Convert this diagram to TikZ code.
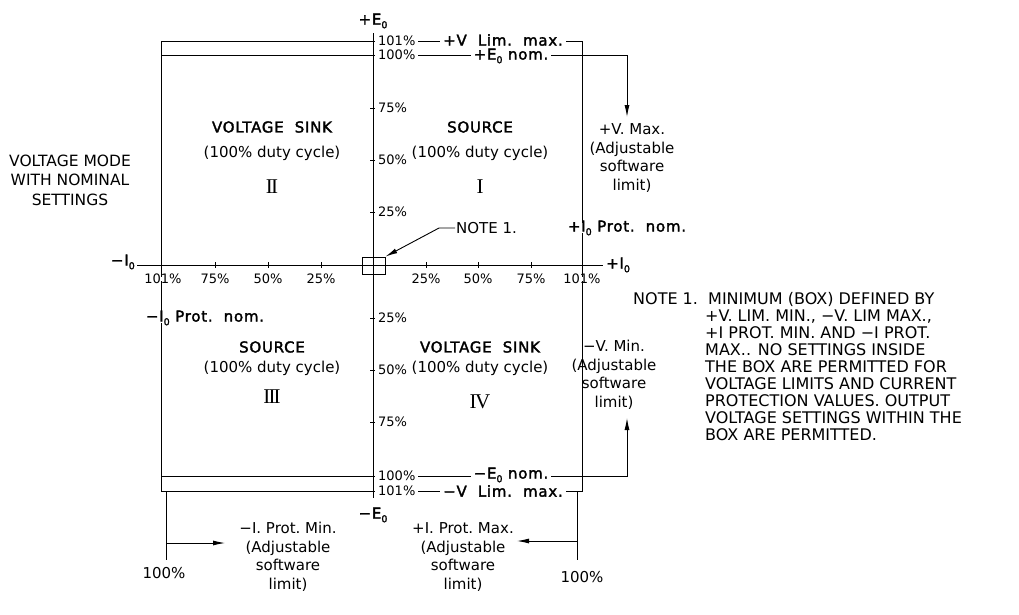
\documentclass[tikz,border=0pt]{standalone}
\usepackage{fontspec}
\setmainfont{DejaVu Sans}
\newfontfamily\heavyfont[FakeBold=2,LetterSpace=5]{DejaVu Sans}
\newfontfamily\numfont{Liberation Serif}
\usetikzlibrary{arrows.meta,positioning}
\definecolor{ink}{HTML}{000000}
\newcommand{\zeroidx}{\raisebox{-0.45ex}{\fontsize{9.5}{9.5}\selectfont 0}}
\tikzset{
  rule/.style={draw=ink, line width=0.9pt},
  lbl/.style={font=\fontsize{15}{18.5}\selectfont, text=ink, align=center, inner sep=1pt},
  pctlbl/.style={font=\fontsize{13}{15}\selectfont, text=ink, inner sep=1pt},
  notelbl/.style={font=\fontsize{16}{17}\selectfont, text=ink, align=left, inner sep=1pt},
  heavylbl/.style={font=\heavyfont\fontsize{15}{18}\selectfont, text=ink, align=center, inner sep=1pt},
  headlbl/.style={font=\heavyfont\fontsize{15}{18}\selectfont, text=ink, align=center, inner sep=1pt},
  mask/.style={fill=white, inner xsep=3pt, inner ysep=-2.5pt},
  quad/.style={font=\numfont\fontsize{21}{21}\selectfont, text=ink, inner sep=0pt},
  arrow/.style={-{Latex[length=12pt,width=5pt]}, line width=0.9pt, draw=ink}
}

\begin{document}
\begin{tikzpicture}[x=1pt,y=-1pt]
\fill[white] (0,0) rectangle (1019,614);
\useasboundingbox (0,0) rectangle (1019,614);
% axes and limit box
\coordinate (ytop) at (373,33);
\coordinate (ybot) at (373,498);
\coordinate (xleft) at (137,265);
\coordinate (xright) at (603,265);
\draw[rule] (ytop) -- (ybot);
\draw[rule] (xleft) -- (xright);
\draw[rule] (161,41) rectangle (582,491);
\coordinate (enomL) at (161,55);
\coordinate (enomR) at (628,55);
\coordinate (enomLb) at (161,476);
\coordinate (enomRb) at (628,476);
\draw[rule] (enomL) -- (enomR);
\draw[rule] (enomLb) -- (enomRb);
\foreach \y in {108,160,212,318,370,422} \draw[rule] (370,\y) -- (376,\y);
\foreach \x in {215,268,321,426,478,531} \draw[rule] (\x,262) -- (\x,268);
% axis labels
\foreach \p/\y in {101/41,100/55,75/108,50/160,25/212,25/318,50/370,75/422,100/476,101/491}
  \node[pctlbl, mask, anchor=west] (ylab\y) at (375,\y) {\p\%};
\foreach \p/\x in {101/163,75/215,50/268,25/321,25/426,50/478,75/531,101/582}
  \node[pctlbl, mask] (xlab\x) at (\x,279) {\p\%};
\node[heavylbl] (eplus) at (373,21) {+E\zeroidx};
\node[heavylbl] (eminus) at (373,515) {−E\zeroidx};
\node[heavylbl, anchor=east] (iminus) at (136,262) {−I\zeroidx};
\node[heavylbl, anchor=west] (iplus) at (605,265) {+I\zeroidx};
% limit labels on the lines
\node[heavylbl, mask] (vlimtop) at (503,40) {+V\ \ Lim.\ \ max.};
\node[heavylbl, mask] (enomtop) at (511,56) {+E\zeroidx\ nom.};
\node[heavylbl, mask] (enombot) at (511,475) {−E\zeroidx\ nom.};
\node[heavylbl, mask] (vlimbot) at (503,491) {−V\ \ Lim.\ \ max.};
\node[heavylbl, mask] (iprotL) at (205,318) {−I\zeroidx\ Prot.\ \ nom.};
\node[heavylbl, mask] (iprotR) at (627,228) {+I\zeroidx\ Prot.\ \ nom.};
% quadrants
\node[headlbl] (q2a) at (272,127) {VOLTAGE\ \ SINK};
\node[lbl] (q2b) at (272,153) {(100\% duty cycle)};
\node[quad] (q2c) at (272,187) {I\kern-1.8pt I};
\node[headlbl] (q1a) at (480,127) {SOURCE};
\node[lbl] (q1b) at (480,153) {(100\% duty cycle)};
\node[quad] (q1c) at (480,187) {I};
\node[headlbl] (q3a) at (272,347) {SOURCE};
\node[lbl] (q3b) at (272,368) {(100\% duty cycle)};
\node[quad] (q3c) at (272,397) {I\kern-1.8pt I\kern-1.8pt I};
\node[headlbl] (q4a) at (480,347) {VOLTAGE\ \ SINK};
\node[lbl] (q4b) at (480,368) {(100\% duty cycle)};
\node[quad] (q4c) at (480,402) {I\kern-1.4pt V};
\node[lbl, font=\fontsize{15.5}{19.5}\selectfont] (mode) at (70,180) {VOLTAGE MODE\\WITH NOMINAL\\SETTINGS};
% adjustable limits
\node[lbl] (vmax) at (632,158) {+V.\ Max.\\(Adjustable\\software\\limit)};
\node[lbl] (vmin) at (614,375) {−V.\ Min.\\(Adjustable\\software\\limit)};
\node[lbl] (iminlim) at (288,557) {−I.\ Prot.\ Min.\\(Adjustable\\software\\limit)};
\node[lbl] (imaxlim) at (463,557) {+I.\ Prot.\ Max.\\(Adjustable\\software\\limit)};
\node[lbl] (pctL) at (164,573) {100\%};
\node[lbl] (pctR) at (582,577) {100\%};
\coordinate (vmaxA) at (627,55);
\coordinate (vmaxB) at (627,117);
\coordinate (vminA) at (627,476);
\coordinate (vminB) at (627,418);
\draw[arrow] (vmaxA) -- (vmaxB);
\draw[arrow] (vminA) -- (vminB);
\coordinate (extL) at (166,491);
\coordinate (extLb) at (166,560);
\coordinate (extR) at (577,491);
\coordinate (extRb) at (577,560);
\draw[rule] (extL) -- (extLb);
\draw[rule] (extR) -- (extRb);
\draw[arrow] (166,543) -- (225,543);
\draw[arrow] (577,541) -- (517,541);
% note 1
\node[draw=ink, line width=0.9pt, minimum width=23pt, minimum height=17pt, inner sep=0pt] (minbox) at (373.5,265.5) {};
\node[lbl, anchor=west] (note) at (455,228) {NOTE 1.};
\draw[arrow] (note.west) -- ++(-16,0) -- (minbox.north east);
\node[notelbl, anchor=north west] (notehead) at (632,291) {NOTE 1.};
\node[notelbl, anchor=north west] (notebody) at (704,291) {\hspace*{3pt}MINIMUM (BOX) DEFINED BY\\+V. LIM. MIN., −V. LIM MAX.,\\+I PROT. MIN. AND −I PROT.\\MAX.. NO SETTINGS INSIDE\\THE BOX ARE PERMITTED FOR\\VOLTAGE LIMITS AND CURRENT\\PROTECTION VALUES. OUTPUT\\VOLTAGE SETTINGS WITHIN THE\\BOX ARE PERMITTED.};
\end{tikzpicture}
\end{document}
